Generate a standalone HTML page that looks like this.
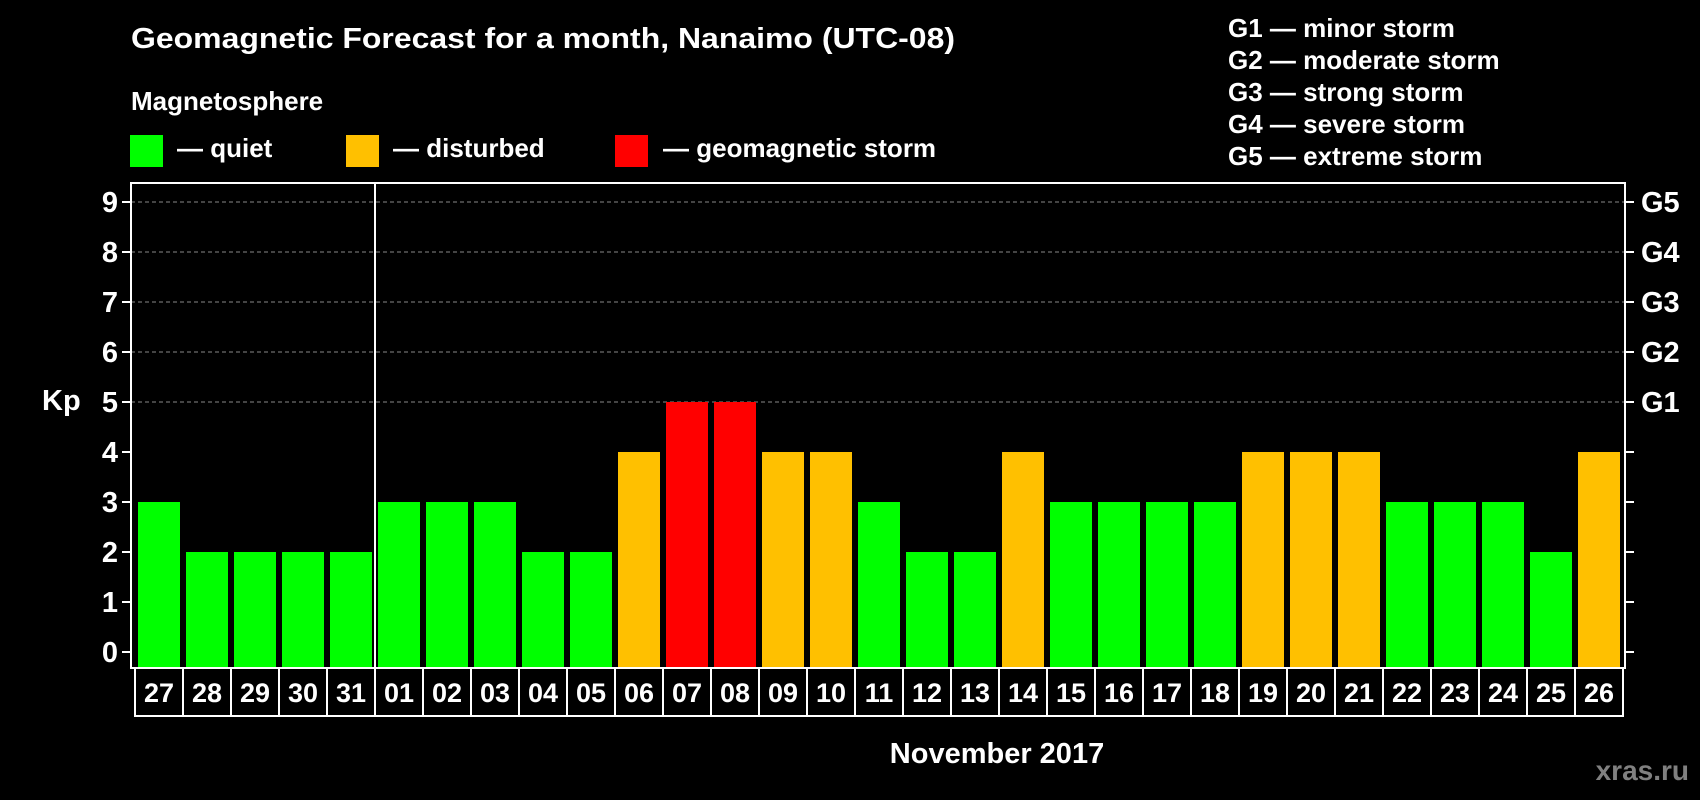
<!DOCTYPE html>
<html><head><meta charset="utf-8"><style>
html,body{margin:0;padding:0;background:#000;}
svg{display:block;font-family:"Liberation Sans",Arial,sans-serif;font-weight:bold;}
</style></head><body>
<svg id="chart" width="1700" height="800" viewBox="0 0 1700 800">
<rect x="0" y="0" width="1700" height="800" fill="#000"/>
<text x="131" y="48" fill="#fff" font-size="29" textLength="824" lengthAdjust="spacingAndGlyphs">Geomagnetic Forecast for a month, Nanaimo (UTC-08)</text>
<text x="131" y="110" fill="#fff" font-size="26">Magnetosphere</text>
<rect x="130" y="135" width="33" height="32" fill="#00ff00"/>
<text x="177" y="157" fill="#fff" font-size="26">— quiet</text>
<rect x="346" y="135" width="33" height="32" fill="#ffc000"/>
<text x="393" y="157" fill="#fff" font-size="26">— disturbed</text>
<rect x="615" y="135" width="33" height="32" fill="#ff0000"/>
<text x="663" y="157" fill="#fff" font-size="26">— geomagnetic storm</text>
<g fill="#fff" font-size="26">
<text x="1228" y="37">G1 — minor storm</text>
<text x="1228" y="69">G2 — moderate storm</text>
<text x="1228" y="101">G3 — strong storm</text>
<text x="1228" y="133">G4 — severe storm</text>
<text x="1228" y="165">G5 — extreme storm</text>
</g>
<text x="42" y="410" fill="#fff" font-size="29">Kp</text>
<text x="997" y="763" fill="#fff" font-size="29" text-anchor="middle">November 2017</text>
<text x="1689" y="780" fill="#808080" font-size="28" text-anchor="end">xras.ru</text>
<g id="grid"></g><g id="bars"></g><g id="axes"></g>
</svg>
<script>
const days=["27","28","29","30","31","01","02","03","04","05","06","07","08","09","10","11","12","13","14","15","16","17","18","19","20","21","22","23","24","25","26"];
const kp=[3,2,2,2,2,3,3,3,2,2,4,5,5,4,4,3,2,2,4,3,3,3,3,4,4,4,3,3,3,2,4];
const yTicks=[0,1,2,3,4,5,6,7,8,9];
const gLabels=["G1","G2","G3","G4","G5"];
const gLevels=[5,6,7,8,9];
const NS="http://www.w3.org/2000/svg";
const L=131,R=1625,T=183,B=668,Y0=652,UNIT=50,STEP=48,BX=138,BW=42;
function y(v){return Y0-v*UNIT;}
function x(i){return BX+i*STEP;}
function mk(tag,attrs,parent,text){const e=document.createElementNS(NS,tag);for(const k in attrs)e.setAttribute(k,attrs[k]);if(text!==undefined)e.textContent=text;parent.appendChild(e);return e;}
const grid=document.getElementById('grid'),bars=document.getElementById('bars'),axes=document.getElementById('axes');
yTicks.forEach(v=>{
  if(v>=5){const g=mk('line',{x1:L,x2:R,y1:y(v),y2:y(v),stroke:'#888','stroke-width':1,'stroke-dasharray':'4,3'},grid);
  
  }
  const t=mk('line',{x1:L-9,x2:L,y1:y(v),y2:y(v),stroke:'#fff','stroke-width':2},axes);
  
  
  const t2=mk('line',{x1:R,x2:R+9,y1:y(v),y2:y(v),stroke:'#fff','stroke-width':2},axes);
  
  
  const lb=mk('text',{x:118,y:y(v)+10,fill:'#fff','font-size':29,'text-anchor':'end'},axes,String(v));
  
  
});
gLabels.forEach((g,i)=>{
  const lb=mk('text',{x:1641,y:y(gLevels[i])+10,fill:'#fff','font-size':29},axes,g);
  
  
});
kp.forEach((v,i)=>{
  const c=v>=5?'#ff0000':(v>=4?'#ffc000':'#00ff00');
  const r=mk('rect',{x:x(i),y:y(v),width:BW,height:B-y(v)-1,fill:c},bars);
  
  
  const bx=mk('rect',{x:x(i)-3,y:B,width:STEP,height:48,fill:'none',stroke:'#fff','stroke-width':2},axes);
  
  
  const t=mk('text',{x:x(i)+BW/2,y:B+34,fill:'#fff','font-size':27,'text-anchor':'middle'},axes,days[i]);
  
  
});
const frame=mk('rect',{x:L,y:T,width:R-L,height:B-T,fill:'none',stroke:'#fff','stroke-width':2},axes);


const div=mk('line',{x1:375,x2:375,y1:T,y2:B+48,stroke:'#fff','stroke-width':2},axes);


</script>
</body></html>
